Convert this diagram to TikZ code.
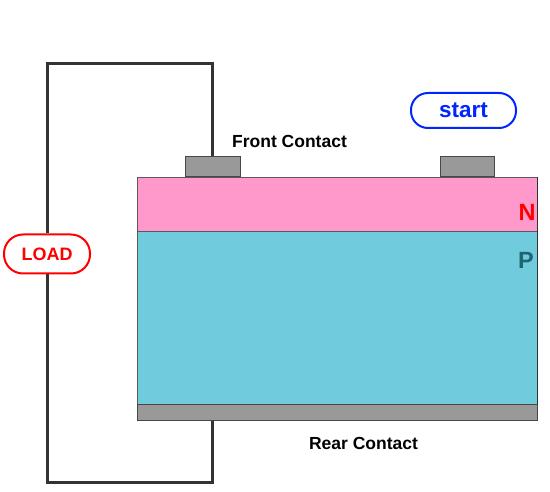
\documentclass[tikz,border=0pt]{standalone}
\usepackage{fontspec}
\setmainfont{Liberation Sans}
\definecolor{nlayer}{HTML}{FF99CC}
\definecolor{player}{HTML}{70CCDD}
\definecolor{metal}{HTML}{999999}
\definecolor{wirec}{HTML}{333333}
\definecolor{pdark}{HTML}{1D6672}
\begin{document}
\begin{tikzpicture}[x=1pt, y=-1pt,
  wire/.style={draw=wirec, line width=3pt, line join=miter},
  contact/.style={draw=wirec!90, fill=metal, line width=1pt, inner sep=0pt},
  tag/.style={rounded corners=19pt, line width=2pt, fill=white, font=\bfseries, inner sep=0pt}]

\useasboundingbox (0,0) rectangle (550,492);

% cell layers
\draw[fill=nlayer, draw=gray!70!black, line width=.8pt] (137,177) rectangle (537,231);
\draw[fill=player, draw=gray!70!black, line width=.8pt] (137,231) rectangle (537,405);
\draw[draw=wirec, line width=.8pt] (537,177)--(537,405);

% contacts
\node[contact, minimum width=55pt, minimum height=20pt] (front) at (212.5,167) {};
\node[contact, minimum width=54pt, minimum height=20pt] (front2) at (467,167) {};
\node[contact, minimum width=400pt, minimum height=16pt] (rear) at (337,413) {};

% labels
\node[font=\bfseries\fontsize{17.5}{19}\selectfont] (ftext) at (289.5,141) {Front Contact};
\node[font=\bfseries\fontsize{17.5}{19}\selectfont] (rtext) at (363.5,443) {Rear Contact};
\node[font=\bfseries\fontsize{23.5}{25}\selectfont, text=red] (n) at (527,212) {N};
\node[font=\bfseries\fontsize{23.5}{25}\selectfont, text=pdark] (p) at (526,260) {P};

% load and start
\node[tag, draw=red, text=red, minimum width=86pt, minimum height=39pt,
      font=\bfseries\fontsize{18}{19}\selectfont] (load) at (47,254) {LOAD};
\node[tag, draw=blue!85!cyan, text=blue!85!cyan, rounded corners=17pt, minimum width=105pt, minimum height=35pt,
      font=\bfseries\fontsize{22.5}{24}\selectfont] (start) at (463.5,110.5) {start};

% circuit
\coordinate (tr) at (212,64);
\coordinate (br) at (212,483);
\draw[wire] (load.north) |- (tr) -- (tr |- front.north);
\draw[wire] (load.south) |- (br) -- (br |- rear.south);

\end{tikzpicture}
\end{document}
